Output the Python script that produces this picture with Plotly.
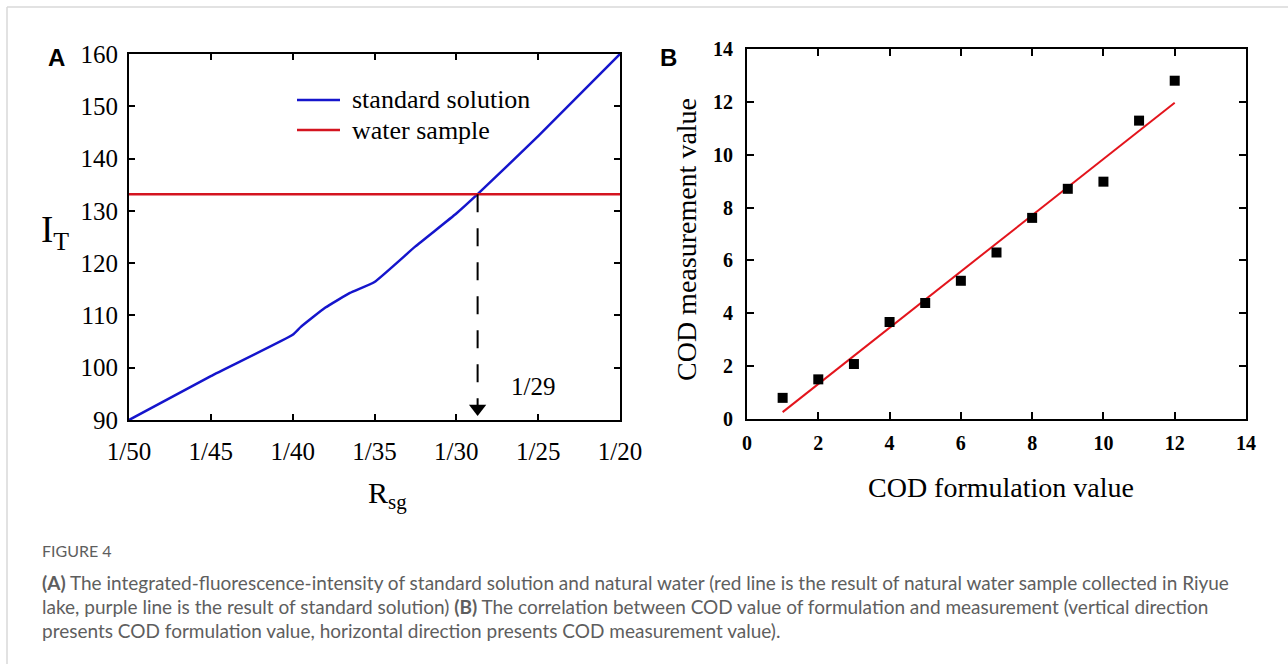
import numpy as np
import plotly.graph_objects as go

# ---------------- data ----------------
rsg_labels = ["1/50", "1/45", "1/40", "1/35", "1/30", "1/25", "1/20"]
std_pos = [0, 1, 2, 2.1, 2.4, 2.7, 3, 3.5, 4, 4.26, 5, 6]
std_it = [90, 98.4, 106.3, 107.8, 111.5, 114.3, 116.4, 123.2, 129.5, 133.2, 144.3, 160]
water_it = 133.2
cross_pos = 4.26
cross_label = "1/29"

cod_form = [1, 2, 3, 4, 5, 6, 7, 8, 9, 10, 11, 12]
cod_meas = [0.8, 1.5, 2.08, 3.67, 4.39, 5.23, 6.3, 7.61, 8.71, 8.98, 11.29, 12.8]

caption_title = "FIGURE 4"
caption_lines = [
    "<b>(A)</b> The integrated-fluorescence-intensity of standard solution and natural water (red line is the result of natural water sample collected in Riyue",
    "lake, purple line is the result of standard solution) <b>(B)</b> The correlation between COD value of formulation and measurement (vertical direction",
    "presents COD formulation value, horizontal direction presents COD measurement value).",
]

# ---------------- layout helpers ----------------
W, H = 1288, 664
def px(x):
    return x / W
def py(y):
    return 1 - y / H

SERIF = "Liberation Serif, Times New Roman, serif"
BLUE = "#1515cc"
RED = "#d41420"

fig = go.Figure()

# Panel A
fig.add_trace(go.Scatter(x=std_pos, y=std_it, mode="lines", name="standard solution",
                         line=dict(color=BLUE, width=2.5, shape="spline", smoothing=0.4),
                         xaxis="x", yaxis="y"))
fig.add_trace(go.Scatter(x=[0, len(rsg_labels) - 1], y=[water_it, water_it], mode="lines",
                         name="water sample", line=dict(color=RED, width=2.5),
                         xaxis="x", yaxis="y"))
# dashed drop line with arrowhead marker at its end
fig.add_trace(go.Scatter(x=[cross_pos, cross_pos], y=[water_it, 92.2], mode="lines",
                         line=dict(color="black", width=2, dash="18px,16px"),
                         xaxis="x", yaxis="y", hoverinfo="skip"))
fig.add_trace(go.Scatter(x=[cross_pos], y=[92.2], mode="markers",
                         marker=dict(symbol="triangle-down", size=15, color="black"),
                         xaxis="x", yaxis="y", hoverinfo="skip"))

# Panel B
slope, intercept = np.polyfit(cod_form, cod_meas, 1)
fit_x = [min(cod_form), max(cod_form)]
fit_y = [slope * v + intercept for v in fit_x]
fig.add_trace(go.Scatter(x=fit_x, y=fit_y, mode="lines", line=dict(color="#e3141c", width=2),
                         xaxis="x2", yaxis="y2"))
fig.add_trace(go.Scatter(x=cod_form, y=cod_meas, mode="markers",
                         marker=dict(symbol="square", size=10, color="black"),
                         xaxis="x2", yaxis="y2"))

axis_common = dict(showline=True, linecolor="black", linewidth=2, mirror="ticks",
                   ticks="inside", tickcolor="black", tickwidth=2, showgrid=False,
                   zeroline=False, automargin=False)

fig.update_layout(
    template="none",
    width=W, height=H,
    margin=dict(l=0, r=0, t=0, b=0, pad=0),
    paper_bgcolor="white", plot_bgcolor="white",
    showlegend=False,
    xaxis=dict(domain=[px(129), px(620)], range=[0, 6], tickvals=list(range(len(rsg_labels))),
               ticktext=rsg_labels, ticklen=6, tickfont=dict(family=SERIF, size=25, color="black"),
               ticklabelstandoff=8, anchor="y", **axis_common),
    yaxis=dict(domain=[py(420), py(54)], range=[90, 160], dtick=10, ticklen=6,
               tickfont=dict(family=SERIF, size=25, color="black"), ticklabelstandoff=4,
               anchor="x", **axis_common),
    xaxis2=dict(domain=[px(747), px(1246)], range=[0, 14], dtick=2, ticklen=7,
                tickfont=dict(family=SERIF, size=20, color="black", weight="bold"),
                ticklabelstandoff=5, anchor="y2", **axis_common),
    yaxis2=dict(domain=[py(419), py(49)], range=[0, 14], dtick=2, ticklen=7,
                tickfont=dict(family=SERIF, size=20, color="black", weight="bold"),
                ticklabelstandoff=8, anchor="x2", **axis_common),
)

ann = []
# panel letters
ann.append(dict(text="<b>A</b>", x=px(56), y=py(58), font=dict(family="Liberation Sans, Arial", size=24, color="black")))
ann.append(dict(text="<b>B</b>", x=px(668), y=py(58), font=dict(family="Liberation Sans, Arial", size=24, color="black")))
# axis titles
ann.append(dict(text="I<sub>T</sub>", x=px(55), y=py(233), font=dict(family=SERIF, size=37, color="black")))
ann.append(dict(text="R<sub>sg</sub>", x=px(387), y=py(495), font=dict(family=SERIF, size=30, color="black")))
ann.append(dict(text="COD formulation value", x=px(1001), y=py(487), font=dict(family=SERIF, size=28, color="black")))
ann.append(dict(text="COD measurement value", x=px(686), y=py(240), textangle=-90,
                font=dict(family=SERIF, size=28, color="black")))
# legend (manual)
ann.append(dict(text="standard solution", x=px(350), y=py(100), xanchor="left",
                font=dict(family=SERIF, size=26, color="black")))
ann.append(dict(text="water sample", x=px(350), y=py(130), xanchor="left",
                font=dict(family=SERIF, size=26, color="black")))
# 1/29 label
ann.append(dict(text=cross_label, x=px(533), y=py(386), font=dict(family=SERIF, size=25, color="black")))

# caption
CAP = "Lato, Open Sans, sans-serif"
CAPCOL = "#5e5e5e"
ann.append(dict(text=caption_title, x=px(40), y=py(550), xanchor="left",
                font=dict(family=CAP, size=16, color=CAPCOL)))
for i, line in enumerate(caption_lines):
    ann.append(dict(text=line, x=px(40), y=py(582 + 24 * i), xanchor="left",
                    font=dict(family=CAP, size=19, color=CAPCOL)))

for a in ann:
    a.setdefault("xref", "paper")
    a.setdefault("yref", "paper")
    a.setdefault("showarrow", False)
    a.setdefault("xanchor", "center")
    a.setdefault("yanchor", "middle")

fig.update_layout(annotations=ann)

# legend sample lines & card border
shapes = [
    dict(type="line", xref="paper", yref="paper", x0=px(297), x1=px(340), y0=py(100), y1=py(100),
         line=dict(color=BLUE, width=2.5)),
    dict(type="line", xref="paper", yref="paper", x0=px(297), x1=px(340), y0=py(130), y1=py(130),
         line=dict(color=RED, width=2.5)),
    dict(type="line", xref="paper", yref="paper", x0=px(7), x1=1, y0=py(7), y1=py(7),
         line=dict(color="#d8d8d8", width=1.5)),
    dict(type="line", xref="paper", yref="paper", x0=px(7), x1=px(7), y0=py(7), y1=0,
         line=dict(color="#d8d8d8", width=1.5)),
]
fig.update_layout(shapes=shapes)

fig.write_html("out.html", config={"displayModeBar": False},
               post_script="document.body.style.margin='0px';document.body.style.overflow='hidden';")
